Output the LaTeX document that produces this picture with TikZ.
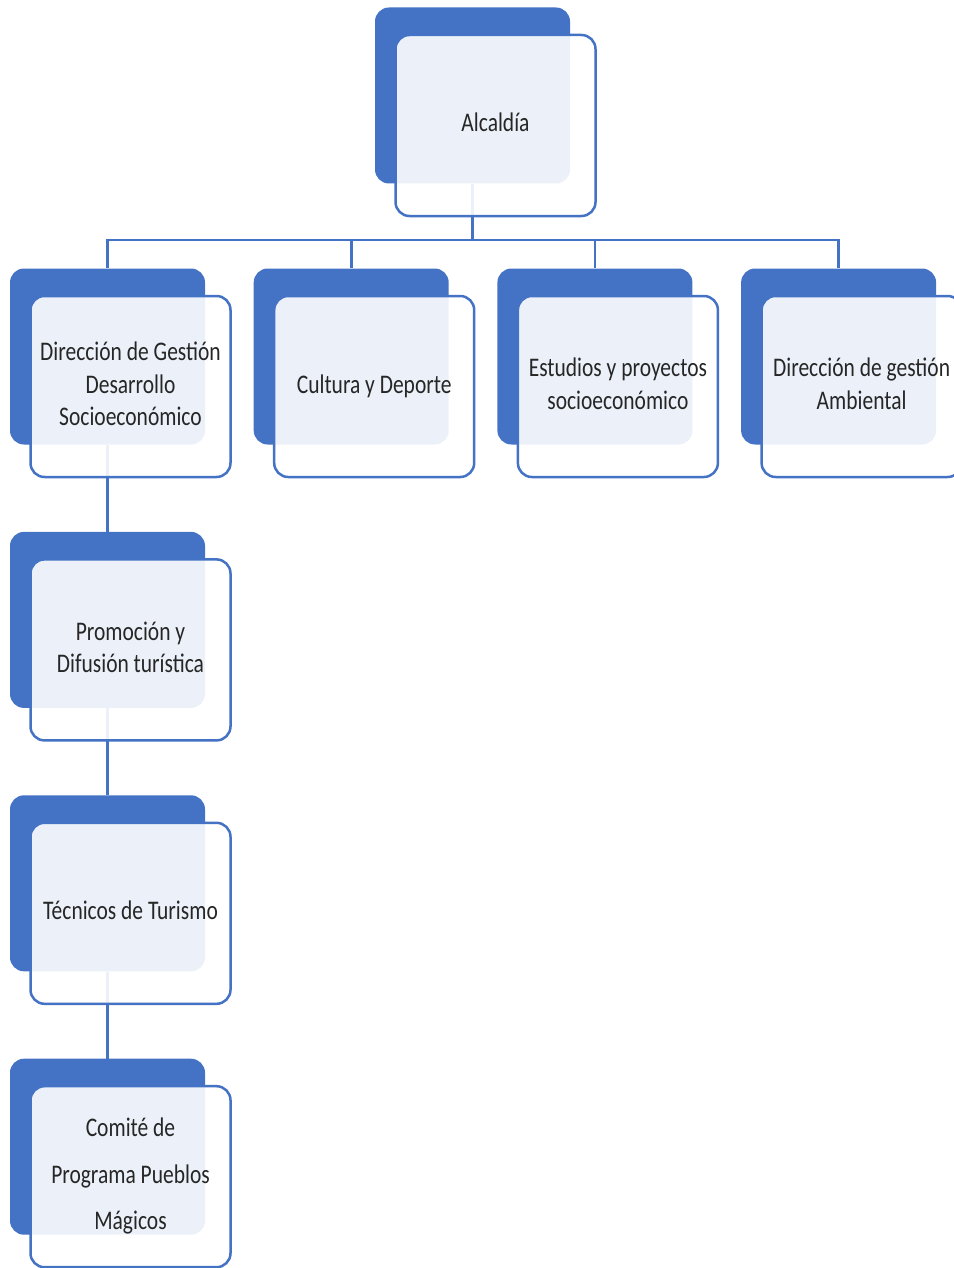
\documentclass[tikz,border=0pt]{standalone}
\usepackage{fontspec}
\setmainfont{Carlito}
\usepackage{graphicx}
\usetikzlibrary{positioning, backgrounds}
\definecolor{orgblue}{RGB}{68, 114, 196}
\newcommand{\boxtext}[1]{\scalebox{1}[1.25]{\begin{tabular}{@{}c@{}}#1\end{tabular}}}

\begin{document}
\begin{tikzpicture}[
    node distance=87pt and 48.3pt,
    backbox/.style={rectangle, rounded corners=14pt, fill=orgblue,
                  minimum width=195pt, minimum height=176pt, inner sep=0pt},
    frontbox/.style={rectangle, rounded corners=14pt, draw=orgblue, line width=2.5pt,
                  fill=white, fill opacity=0.9, text opacity=1, text=black!85,
                  minimum width=200pt, minimum height=181pt, inner sep=0pt,
                  xshift=23pt, yshift=-30pt, font=\fontsize{21.5}{26}\selectfont},
    conn/.style={draw=orgblue, line width=2.8pt}
]
    \useasboundingbox (0,0) rectangle (953pt,-1268pt);

    % top
    \node[backbox] (alcB) at (472.5pt,-95.5pt) {};
    \node[frontbox] (alc) at (alcB) {\boxtext{Alcaldía}};

    % first row
    \node[backbox] (dirB) at (107.5pt,-356.5pt) {};
    \node[frontbox] (dir) at (dirB) {\boxtext{Dirección de Gestión\\Desarrollo\\Socioeconómico}};
    \node[backbox, right=of dirB] (culB) {};
    \node[frontbox] (cul) at (culB) {\boxtext{Cultura y Deporte}};
    \node[backbox, right=of culB] (estB) {};
    \node[frontbox] (est) at (estB) {\boxtext{Estudios y proyectos\\socioeconómico}};
    \node[backbox, right=of estB] (ambB) {};
    \node[frontbox] (amb) at (ambB) {\boxtext{Dirección de gestión\\Ambiental}};

    % column under Dirección de Gestión
    \node[backbox, below=of dirB] (proB) {};
    \node[frontbox] (pro) at (proB) {\boxtext{Promoción y\\Difusión turística}};
    \node[backbox, below=of proB] (tecB) {};
    \node[frontbox] (tec) at (tecB) {\boxtext{Técnicos de Turismo}};
    \node[backbox, below=of tecB] (comB) {};
    \node[frontbox] (com) at (comB) {\boxtext{Comité de\\[11pt]Programa Pueblos\\[11pt]Mágicos}};

    \begin{scope}[on background layer]
        \coordinate (hub) at (472.5pt,-240pt);
        \draw[conn] (alcB.south) -- (hub);
        \draw[conn] (hub) -| (dirB.north);
        \draw[conn] (hub) -| (culB.north);
        \draw[conn] (hub) -| (estB.north);
        \draw[conn] (hub) -| (ambB.north);
        \draw[conn] (dirB.south) -- (proB.north);
        \draw[conn] (proB.south) -- (tecB.north);
        \draw[conn] (tecB.south) -- (comB.north);
    \end{scope}

\end{tikzpicture}
\end{document}
